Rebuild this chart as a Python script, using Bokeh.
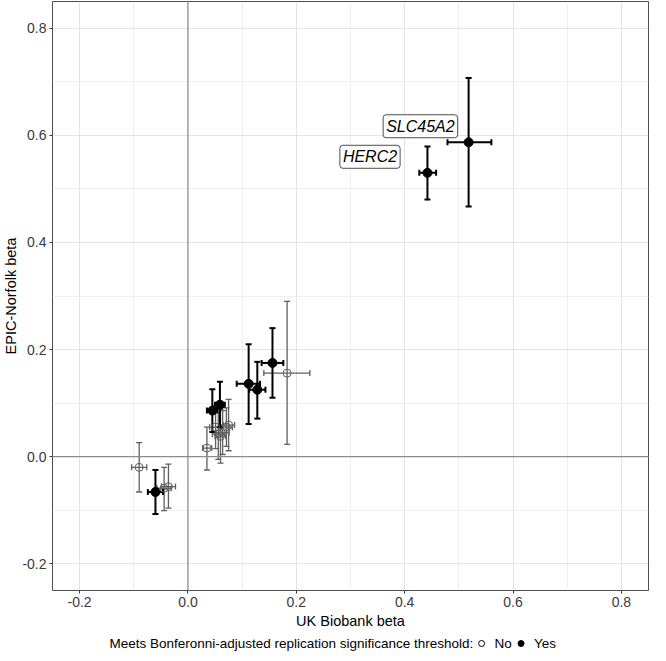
import math
from bokeh.plotting import figure
from bokeh.layouts import column
from bokeh.core.properties import value
from bokeh.models import (ColumnDataSource, Whisker, TeeHead, Span, Label,
                          FixedTicker, Range1d, NumeralTickFormatter)
from bokeh.embed import file_html
from bokeh.resources import INLINE

# ---- data ----
# significant (Yes)
yes_ukb    = [0.518, 0.442, 0.156, 0.112, 0.128, 0.059, 0.045, -0.060]
yes_ukb_lo = [0.479, 0.427, 0.136, 0.090, 0.113, 0.050, 0.035, -0.074]
yes_ukb_hi = [0.560, 0.458, 0.176, 0.133, 0.143, 0.068, 0.054, -0.046]
yes_epic    = [0.587, 0.530, 0.175, 0.136, 0.125, 0.097, 0.086, -0.066]
yes_epic_lo = [0.467, 0.480, 0.110, 0.061, 0.071, 0.055, 0.046, -0.107]
yes_epic_hi = [0.707, 0.579, 0.240, 0.210, 0.177, 0.140, 0.126, -0.025]

# not significant (No)
no_ukb    = [0.183, -0.090, -0.036, -0.044, 0.035, 0.051, 0.056, 0.064, 0.071, 0.075, 0.060]
no_ukb_lo = [0.140, -0.104, -0.049, -0.057, 0.027, 0.040, 0.045, 0.052, 0.060, 0.065, 0.050]
no_ukb_hi = [0.225, -0.076, -0.023, -0.031, 0.044, 0.062, 0.067, 0.076, 0.082, 0.086, 0.070]
no_epic    = [0.156, -0.020, -0.056, -0.059, 0.016, 0.055, 0.042, 0.045, 0.055, 0.059, 0.038]
no_epic_lo = [0.023, -0.066, -0.096, -0.101, -0.025, 0.015, -0.005, 0.004, 0.019, 0.011, -0.012]
no_epic_hi = [0.290, 0.026, -0.014, -0.020, 0.055, 0.095, 0.089, 0.086, 0.091, 0.107, 0.088]

gene_labels = ["SLC45A2", "HERC2"]
gene_label_x = [0.429, 0.336]
gene_label_y = [0.617, 0.560]

major_ticks = [-0.2, 0.0, 0.2, 0.4, 0.6, 0.8]
minor_ticks = [-0.1, 0.1, 0.3, 0.5, 0.7]

legend_title = "Meets Bonferonni-adjusted replication significance threshold:"
legend_labels = ["No", "Yes"]

FONT = "Liberation Sans"
GRAY = "#5f5f5f"

W = 650
p = figure(width=W, height=631, output_backend="svg", toolbar_location=None,
           x_range=Range1d(-0.25, 0.85), y_range=Range1d(-0.25, 0.85),
           min_border_left=40, min_border_right=2, min_border_top=1, min_border_bottom=41)
p.background_fill_color = "white"
p.border_fill_color = "white"
p.outline_line_color = "#4d4d4d"
p.outline_line_width = 1

for ax in (p.xaxis[0], p.yaxis[0]):
    ax.ticker = FixedTicker(ticks=major_ticks, minor_ticks=minor_ticks)
    ax.formatter = NumeralTickFormatter(format="0.0")
    ax.axis_line_color = None
    ax.major_tick_out = 3
    ax.major_tick_in = 0
    ax.minor_tick_line_color = None
    ax.major_tick_line_color = "#333333"
    ax.major_label_text_font = FONT
    ax.major_label_text_font_size = "14px"
    ax.major_label_text_color = "#3a3a3a"
    ax.major_label_standoff = 2
    ax.axis_label_text_font = FONT
    ax.axis_label_text_font_size = "14.5px"
    ax.axis_label_text_font_style = "normal"
    ax.axis_label_text_color = "black"

p.xaxis.axis_label = "UK Biobank beta"
p.xaxis.axis_label_standoff = 3
p.yaxis.axis_label = "EPIC-Norfolk beta"
p.yaxis.axis_label_standoff = 0

p.xgrid.ticker = FixedTicker(ticks=major_ticks, minor_ticks=minor_ticks)
p.ygrid.ticker = FixedTicker(ticks=major_ticks, minor_ticks=minor_ticks)
for g in (p.xgrid[0], p.ygrid[0]):
    g.grid_line_color = "#e3e3e3"
    g.grid_line_width = 1
    g.minor_grid_line_color = "#efefef"
    g.minor_grid_line_width = 1

# zero reference lines
p.add_layout(Span(location=0, dimension="height", line_color="#8c8c8c", line_width=1.2))
p.add_layout(Span(location=0, dimension="width", line_color="#8c8c8c", line_width=1.2))

src_no = ColumnDataSource(dict(x=no_ukb, xl=no_ukb_lo, xh=no_ukb_hi,
                               y=no_epic, yl=no_epic_lo, yh=no_epic_hi))
src_yes = ColumnDataSource(dict(x=yes_ukb, xl=yes_ukb_lo, xh=yes_ukb_hi,
                                y=yes_epic, yl=yes_epic_lo, yh=yes_epic_hi))

def add_bars(src, color, lw):
    head = dict(size=6, line_color=color, line_width=lw)
    p.add_layout(Whisker(source=src, base="x", lower="yl", upper="yh", dimension="height",
                         line_color=color, line_width=lw,
                         lower_head=TeeHead(**head), upper_head=TeeHead(**head)))
    p.add_layout(Whisker(source=src, base="y", lower="xl", upper="xh", dimension="width",
                         line_color=color, line_width=lw,
                         lower_head=TeeHead(**head), upper_head=TeeHead(**head)))

add_bars(src_no, GRAY, 1.3)
p.scatter("x", "y", source=src_no, size=8, marker="circle",
          fill_color="white", fill_alpha=0.0, line_color=GRAY, line_width=1)
add_bars(src_yes, "black", 2)
p.scatter("x", "y", source=src_yes, size=9, marker="circle",
          fill_color="black", line_color="black", line_width=1)

for t, lx, ly_ in zip(gene_labels, gene_label_x, gene_label_y):
    p.add_layout(Label(x=lx, y=ly_, text=t, text_font=FONT, text_font_size="16px",
                       text_font_style="italic", text_color="black",
                       text_align="center", text_baseline="middle",
                       background_fill_color="white", border_line_color="#4d4d4d",
                       border_line_width=1, border_radius=3, padding=3))

# ---- legend strip (separate small figure, pixel-like coordinates) ----
LH = 22
leg = figure(width=W, height=LH, output_backend="svg", toolbar_location=None,
             x_range=Range1d(0, W), y_range=Range1d(0, LH),
             min_border_left=0, min_border_right=0, min_border_top=0, min_border_bottom=0)
leg.axis.visible = False
leg.grid.visible = False
leg.outline_line_color = None
leg.background_fill_color = "white"
leg.border_fill_color = "white"

ly = 10
leg.text(x=[459], y=[ly], text=[legend_title], text_font=value(FONT),
         text_font_size="13.5px", text_color="black", text_align="right",
         text_baseline="middle")
leg.scatter(x=[468], y=[ly], size=6, marker="circle", fill_color="white",
            line_color="black", line_width=1)
leg.scatter(x=[511], y=[ly], size=6, marker="circle", fill_color="black",
            line_color="black", line_width=1)
leg.text(x=[482, 525], y=[ly, ly], text=legend_labels, text_font=value(FONT),
         text_font_size="13.5px", text_color="black", text_align="left",
         text_baseline="middle")

layout = column(p, leg, spacing=0)
open("out.html", "w").write(file_html(layout, INLINE))
